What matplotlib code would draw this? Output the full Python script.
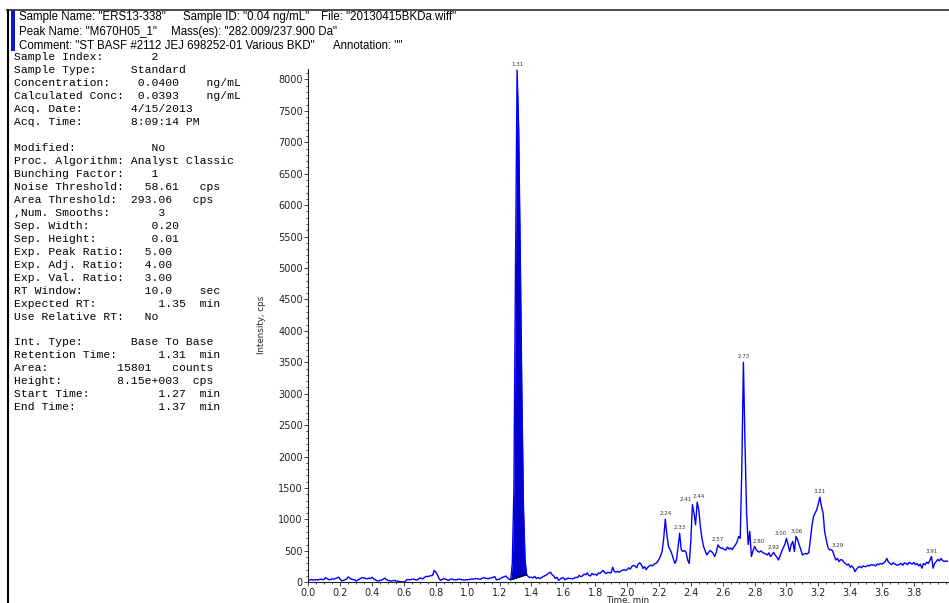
import numpy as np
import matplotlib.pyplot as plt
from matplotlib.patches import Rectangle
from matplotlib.ticker import MultipleLocator, FixedLocator

W, H = 949, 603

# header lines (drawn at fixed pixel x)
header_rows = [
    [(19, 'Sample Name: "ERS13-338"'), (183, 'Sample ID: "0.04 ng/mL"'), (321, 'File: "20130415BKDa.wiff"')],
    [(19, 'Peak Name: "M670H05_1"'), (171, 'Mass(es): "282.009/237.900 Da"')],
    [(19, 'Comment: "ST BASF #2112 JEJ 698252-01 Various BKD"'), (333, 'Annotation: ""')],
]

# quantitation panel: label, then (column, text) pairs
panel_rows = [
    ("Sample Index:", [(20, "2")]),
    ("Sample Type:", [(17, "Standard")]),
    ("Concentration:", [(18, "0.0400"), (28, "ng/mL")]),
    ("Calculated Conc:", [(18, "0.0393"), (28, "ng/mL")]),
    ("Acq. Date:", [(17, "4/15/2013")]),
    ("Acq. Time:", [(17, "8:09:14 PM")]),
    ("", []),
    ("Modified:", [(20, "No")]),
    ("Proc. Algorithm:", [(17, "Analyst Classic")]),
    ("Bunching Factor:", [(20, "1")]),
    ("Noise Threshold:", [(19, "58.61"), (27, "cps")]),
    ("Area Threshold:", [(17, "293.06"), (26, "cps")]),
    (",Num. Smooths:", [(21, "3")]),
    ("Sep. Width:", [(20, "0.20")]),
    ("Sep. Height:", [(20, "0.01")]),
    ("Exp. Peak Ratio:", [(19, "5.00")]),
    ("Exp. Adj. Ratio:", [(19, "4.00")]),
    ("Exp. Val. Ratio:", [(19, "3.00")]),
    ("RT Window:", [(19, "10.0"), (27, "sec")]),
    ("Expected RT:", [(21, "1.35"), (27, "min")]),
    ("Use Relative RT:", [(19, "No")]),
    ("", []),
    ("Int. Type:", [(17, "Base To Base")]),
    ("Retention Time:", [(21, "1.31"), (27, "min")]),
    ("Area:", [(15, "15801"), (23, "counts")]),
    ("Height:", [(15, "8.15e+003"), (26, "cps")]),
    ("Start Time:", [(21, "1.27"), (27, "min")]),
    ("End Time:", [(21, "1.37"), (27, "min")]),
]

# XIC trace, one row per 0.1 min, sampled every 0.01 min
intensity = [
    30, 38, 45, 35, 40, 42, 38, 45, 50, 42,
    48, 75, 55, 40, 45, 55, 50, 60, 70, 80,
    50, 22, 30, 40, 55, 85, 65, 50, 45, 40,
    20, 35, 50, 65, 75, 70, 60, 55, 65, 60,
    80, 55, 40, 25, 20, 30, 35, 50, 65, 45,
    30, 25, 20, 25, 30, 22, 18, 12, 10, 8,
    5, 20, 45, 42, 40, 48, 50, 42, 35, 50,
    70, 60, 55, 80, 95, 90, 100, 105, 110, 190,
    165, 120, 60, 30, 45, 60, 50, 40, 30, 45,
    55, 45, 38, 40, 48, 50, 42, 38, 35, 40,
    40, 45, 50, 55, 48, 60, 58, 52, 50, 62,
    75, 65, 60, 58, 65, 70, 80, 90, 40, 45,
    50, 65, 80, 90, 100, 70, 50, 40, 300, 1500,
    5000, 8150, 7200, 5200, 3000, 1200, 350, 120, 90, 80,
    80, 70, 95, 60, 75, 60, 70, 85, 100, 110,
    130, 150, 160, 120, 100, 60, 80, 30, 50, 70,
    70, 40, 55, 65, 60, 60, 55, 70, 80, 75,
    110, 90, 100, 130, 120, 150, 110, 100, 140, 120,
    130, 110, 150, 140, 170, 190, 150, 140, 160, 150,
    150, 240, 170, 160, 175, 160, 180, 190, 200, 190,
    200, 230, 210, 250, 270, 260, 230, 290, 310, 280,
    220, 250, 200, 240, 260, 275, 260, 290, 300, 320,
    365, 420, 490, 700, 1005, 750, 570, 520, 460, 380,
    300, 355, 560, 780, 520, 490, 505, 480, 355, 300,
    650, 1235, 1100, 915, 1275, 1150, 890, 700, 570, 500,
    435, 470, 505, 490, 460, 410, 480, 595, 560, 540,
    545, 520, 515, 560, 530, 545, 520, 560, 595, 640,
    730, 700, 1800, 3500, 2200, 1100, 600, 810, 410, 500,
    570, 520, 490, 480, 500, 475, 460, 450, 435, 470,
    410, 440, 475, 430, 400, 355, 420, 490, 550, 600,
    700, 600, 490, 600, 650, 490, 730, 680, 595, 520,
    435, 450, 460, 450, 470, 675, 900, 1050, 1100, 1155,
    1250, 1355, 1200, 1100, 800, 675, 560, 515, 520, 500,
    420, 355, 380, 330, 360, 355, 320, 300, 275, 290,
    240, 260, 230, 170, 210, 240, 250, 230, 260, 250,
    250, 270, 260, 280, 275, 275, 260, 290, 280, 300,
    290, 310, 330, 380, 320, 300, 280, 310, 290, 275,
    275, 290, 300, 270, 310, 300, 280, 320, 300, 290,
    315, 280, 300, 260, 290, 225, 300, 280, 320, 300,
    350, 410, 225, 300, 330, 365, 340, 380, 345, 330,
    340, 335,
]
time = np.round(np.arange(len(intensity)) * 0.01, 2)
intensity = np.array(intensity, dtype=float)

# labelled apexes (retention times)
peak_rts = [1.31, 2.24, 2.33, 2.41, 2.44, 2.57, 2.73, 2.80, 2.92, 3.00, 3.06, 3.21, 3.29, 3.91]
# nudge crowded labels sideways (points)
label_dx = {2.41: -4.5, 2.44: 1.5, 3.00: -4.0, 3.06: 0.5, 2.80: 3.0, 3.29: 3.5}

# integrated peak
rt_start, rt_end = 1.27, 1.37


def px(x, y):
    return x / W, 1 - y / H


fig = plt.figure(figsize=(W / 100, H / 100), dpi=100)

# frame lines and header marker
fig.add_artist(plt.Line2D([7 / W, 1], [1 - 9.5 / H] * 2, color="#303030", lw=1.2))
fig.add_artist(plt.Line2D([7.5 / W] * 2, [0, 1 - 9.5 / H], color="black", lw=1.5))
fig.add_artist(Rectangle(px(11, 51), 3.5 / W, 41.5 / H, color="#1414c8", lw=0))

header_y = [17, 31.5, 46]
for y, row in zip(header_y, header_rows):
    for x, s in row:
        fig.text(*px(x, y), s, family="Liberation Sans", fontsize=8.3, va="center", ha="left")

for i, (label, vals) in enumerate(panel_rows):
    y = 57.5 + i * 12.95
    line = label
    for col, s in vals:
        line = line.ljust(col) + s
    fig.text(*px(14.5, y), line, family="Liberation Mono", fontsize=8.2, va="center", ha="left")

ax = fig.add_axes([308.3 / W, (H - 582.3) / H, 1 - 308.3 / W, (582.3 - 69.3) / H])
ax.plot(time, intensity, color="#0000ff", lw=1.0)

# fill the integrated peak down to its drawn baseline
m = (time >= rt_start) & (time <= rt_end)
base = np.interp(time[m], [rt_start, rt_end], [intensity[time == rt_start][0], intensity[time == rt_end][0]])
ax.fill_between(time[m], base, intensity[m], color="#0000c8", lw=0)
ax.plot([rt_start, rt_end], [base[0], base[-1]], color="black", lw=0.8)

for rt in peak_rts:
    yv = intensity[np.argmin(np.abs(time - rt))]
    ax.annotate(f"{rt:.2f}", (rt, yv), xytext=(label_dx.get(rt, 0), 2), textcoords="offset points",
                ha="center", va="bottom", fontsize=4.0, color="#333333")

ax.set_xlim(0, 4.02)
ax.set_ylim(0, 8160)
ax.xaxis.set_major_locator(FixedLocator(np.round(np.arange(0, 3.81, 0.2), 1)))
ax.xaxis.set_minor_locator(MultipleLocator(0.05))
ax.yaxis.set_major_locator(MultipleLocator(500))
ax.yaxis.set_minor_locator(MultipleLocator(100))
ax.xaxis.set_major_formatter(plt.FuncFormatter(lambda v, p: f"{v:.1f}"))
ax.tick_params(labelsize=7, colors="#222222", length=3, width=0.6, pad=1)
ax.tick_params(which="minor", length=1.5, width=0.5)
for s in ("top", "right"):
    ax.spines[s].set_visible(False)
for s in ("left", "bottom"):
    ax.spines[s].set_linewidth(0.8)
    ax.spines[s].set_color("#222222")

fig.text(*px(262, 325), "Intensity, cps", rotation=90, fontsize=6.3, ha="center", va="center", color="#222222")
fig.text(*px(628, 601), "Time, min", fontsize=6.3, ha="center", va="center", color="#222222")

fig.savefig("out.png", dpi=100)
